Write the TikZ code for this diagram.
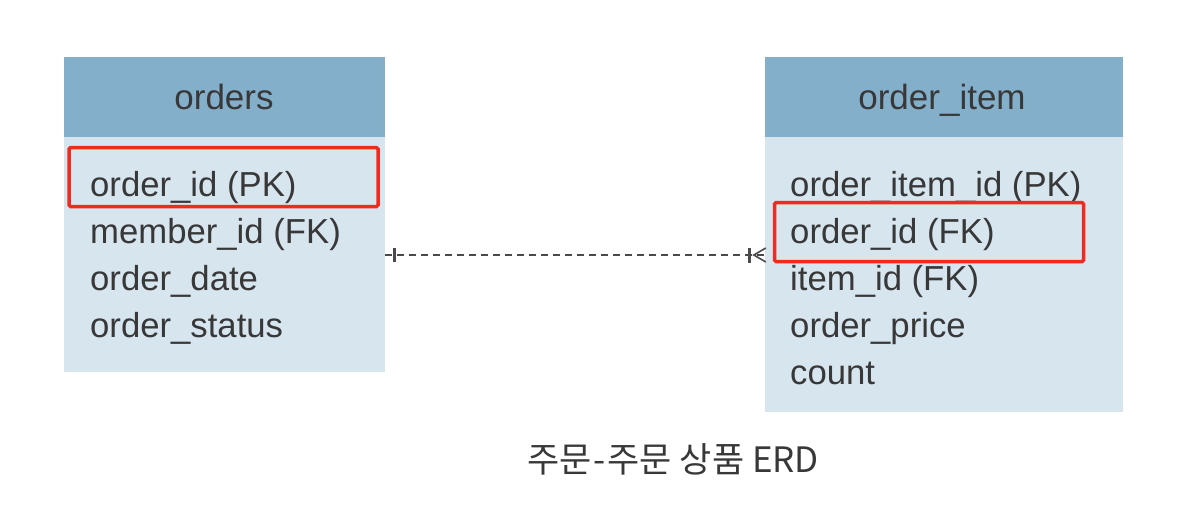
\documentclass[tikz,border=0pt]{standalone}
\usepackage{fontspec}
\setmainfont{Liberation Sans}
\newfontfamily\kr{Noto Sans CJK KR}
\definecolor{hdrc}{HTML}{84AFCB}
\definecolor{bodyc}{HTML}{D7E5EF}
\definecolor{txtc}{HTML}{383838}
\definecolor{redc}{HTML}{F02A1E}
\definecolor{linec}{HTML}{4A4A4A}
\begin{document}
\begin{tikzpicture}[x=1pt,y=-1pt,
  hdr/.style={fill=hdrc,draw=none,inner sep=0pt},
  tbody/.style={fill=bodyc,draw=none,inner sep=0pt},
  field/.style={anchor=base west,inner sep=0pt,text=txtc,font=\fontsize{34.7}{40}\selectfont},
  title/.style={anchor=base,inner sep=0pt,text=txtc,font=\fontsize{35}{40}\selectfont},
  hilite/.style={draw=redc,line width=3.5pt,rounded corners=1.5pt,fill=none,inner sep=0pt},
  rel/.style={draw=linec,line width=1.7pt,dash pattern=on 7pt off 5pt},
  tick/.style={draw=linec,line width=3pt}]
\useasboundingbox[fill=white] (0,0) rectangle (1190,515);
% orders table
\node[tbody,minimum width=321pt,minimum height=236pt] (ordbody) at (224.5,254) {};
\node[hdr,minimum width=321pt,minimum height=80pt] (ordhdr) at (224.5,96.5) {};
\node[title] (ordtitle) at (224,109) {orders};
\node[field] (o1) at (90,196) {order\_id (PK)};
\node[field] (o2) at (90,243) {member\_id (FK)};
\node[field] (o3) at (90,290) {order\_date};
\node[field] (o4) at (90,337) {order\_status};
\node[hilite,minimum width=309pt,minimum height=59pt] (ordpk) at (223.5,177) {};
% order_item table
\node[tbody,minimum width=358pt,minimum height=276pt] (itbody) at (944,274) {};
\node[hdr,minimum width=358pt,minimum height=80pt] (ithdr) at (944,96.5) {};
\node[title] (ittitle) at (942,109) {order\_item};
\node[field] (i1) at (790,196) {order\_item\_id (PK)};
\node[field] (i2) at (790,243) {order\_id (FK)};
\node[field] (i3) at (790,290) {item\_id (FK)};
\node[field] (i4) at (790,337) {order\_price};
\node[field] (i5) at (790,384) {count};
\node[hilite,minimum width=309pt,minimum height=59pt] (itfk) at (929,232) {};
% relationship
\coordinate (ra) at (ordbody.east |- 0,255);
\coordinate (rb) at (itbody.west |- 0,255);
\draw[rel] (ra) -- (rb);
\draw[tick] ([xshift=9pt,yshift=-7pt]ra) -- ([xshift=9pt,yshift=7pt]ra);
\draw[tick] ([xshift=-15pt,yshift=-7.5pt]rb) -- ([xshift=-15pt,yshift=7.5pt]rb);
\draw[draw=linec,line width=1.6pt] ([xshift=1pt,yshift=-7pt]rb) -- ([xshift=-11pt]rb) -- ([xshift=1pt,yshift=7pt]rb);
% caption
\node[anchor=base,inner sep=0pt,text=txtc,font=\kr\fontsize{35}{40}\selectfont] (cap) at (673,472) {주문\kern2pt-\kern2pt주문 상품 ERD};
\end{tikzpicture}
\end{document}
